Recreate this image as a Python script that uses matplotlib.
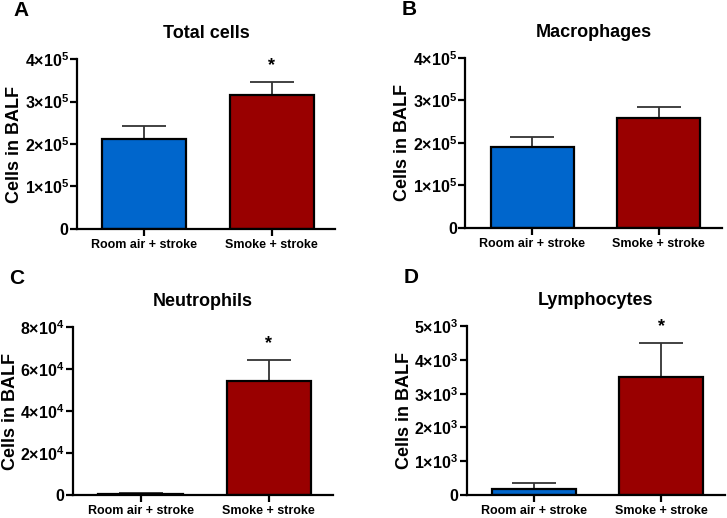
import matplotlib
matplotlib.use('Agg')
import matplotlib.pyplot as plt
from matplotlib.ticker import FuncFormatter

plt.rcParams['font.family'] = ['Liberation Sans', 'DejaVu Sans']
plt.rcParams['font.weight'] = 'bold'
plt.rcParams['mathtext.fontset'] = 'custom'
plt.rcParams['mathtext.rm'] = 'Liberation Sans:bold'
plt.rcParams['mathtext.bf'] = 'Liberation Sans:bold'

groups = ['Room air + stroke', 'Smoke + stroke']
colors = ['#0066CC', '#990000']

panel_letters = ['A', 'B', 'C', 'D']
titles = ['Total cells', 'Macrophages', 'Neutrophils', 'Lymphocytes']

total_mean = [2.12e5, 3.15e5]
total_sem = [0.30e5, 0.31e5]
macro_mean = [1.91e5, 2.59e5]
macro_sem = [0.23e5, 0.26e5]
neutro_mean = [600, 5.43e4]
neutro_sem = [400, 1.0e4]
lympho_mean = [180, 3.49e3]
lympho_sem = [190, 1.01e3]

means = [total_mean, macro_mean, neutro_mean, lympho_mean]
sems = [total_sem, macro_sem, neutro_sem, lympho_sem]
y_max = [4e5, 4e5, 8e4, 5e3]
y_step = [1e5, 1e5, 2e4, 1e3]
exps = [5, 5, 4, 3]
stars = [[False, True], [False, False], [False, True], [False, True]]

# axes rectangles in figure fraction
rects = [
    [0.106, 0.558, 0.355, 0.328],
    [0.640, 0.560, 0.353, 0.328],
    [0.100, 0.0444, 0.358, 0.324],
    [0.642, 0.0444, 0.355, 0.326],
]

fig = plt.figure(figsize=(7.27, 5.18), dpi=100)


def make_fmt(e):
    def fmt(v, pos):
        if v == 0:
            return '0'
        k = int(round(v / 10 ** e))
        return '%d×10$^{%d}$' % (k, e)
    return fmt


for i in range(4):
    ax = fig.add_axes(rects[i])
    x = [0, 1]
    ax.bar(x, means[i], width=0.66, color=colors, edgecolor='black',
           linewidth=1.6, zorder=2)
    ax.errorbar(x, means[i], yerr=[[0, 0], sems[i]], fmt='none',
                ecolor='#333333', elinewidth=1.3, capsize=16, capthick=1.3,
                zorder=1)
    for j in range(2):
        if stars[i][j]:
            ax.annotate('*', (x[j], means[i][j] + sems[i][j]),
                        xytext=(0, 12), textcoords='offset points',
                        ha='center', va='center', fontsize=13,
                        fontweight='bold', annotation_clip=False)

    ax.set_xlim(-0.53, 1.5)
    ax.set_ylim(0, y_max[i])
    ax.set_yticks([k * y_step[i] for k in range(int(round(y_max[i] / y_step[i])) + 1)])
    ax.yaxis.set_major_formatter(FuncFormatter(make_fmt(exps[i])))
    ax.set_xticks(x)
    ax.set_xticklabels(groups, fontsize=9, fontweight='bold')
    for lab in ax.get_yticklabels():
        lab.set_fontsize(11.5)

    ax.spines['top'].set_visible(False)
    ax.spines['right'].set_visible(False)
    ax.spines['left'].set_linewidth(1.6)
    ax.spines['bottom'].set_linewidth(1.6)
    ax.tick_params(axis='both', direction='out', length=5, width=1.6)
    ax.tick_params(axis='y', pad=1)
    ax.tick_params(axis='x', pad=2)

    ax.set_ylabel('Cells in BALF', fontsize=13, fontweight='bold', labelpad=1)
    ax.set_title(titles[i], fontsize=13, fontweight='bold', pad=15)

    bb = ax.get_position()
    fig.text(bb.x0 - 0.087, bb.y1 + 0.093, panel_letters[i], fontsize=15,
             fontweight='bold', ha='left', va='center')

fig.savefig('out.png', dpi=100)
